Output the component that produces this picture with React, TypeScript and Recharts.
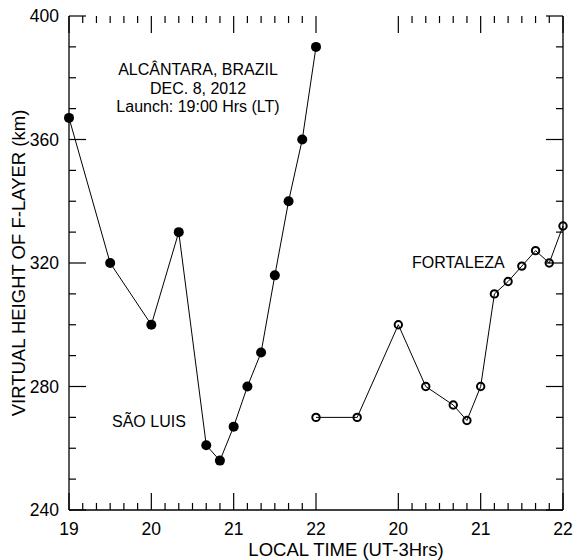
import { LineChart, Line, XAxis, YAxis, ReferenceLine } from 'recharts';

// São Luis ionosonde, local time (h) vs h'F (km)
const saoLuisTime = [19, 19.5, 20, 20.333, 20.667, 20.833, 21, 21.167, 21.333, 21.5, 21.667, 21.833, 22];
const saoLuisHeight = [367, 320, 300, 330, 261, 256, 267, 280, 291, 316, 340, 360, 390];

// Fortaleza ionosonde, same local times, drawn in the second panel
const fortalezaTime = [19, 19.5, 20, 20.333, 20.667, 20.833, 21, 21.167, 21.333, 21.5, 21.667, 21.833, 22];
const fortalezaHeight = [270, 270, 300, 280, 274, 269, 280, 310, 314, 319, 324, 320, 332];

// the second panel starts one hour after the first one ends
const PANEL_SHIFT = 3;
const xSegments = [[19, 22], [23, 25]];
const yTickLabels = [240, 280, 320, 360, 400];

const X_DOMAIN = [19, 25];
const Y_DOMAIN = [240, 400];

const W = 575;
const H = 560;
const LEFT = 69;
const RIGHT = 12;
const TOP = 16;
const BOTTOM = 50;
const FONT = '"Liberation Sans", Arial, Helvetica, sans-serif';

const saoLuis = saoLuisTime.map((t, i) => ({ t, h: saoLuisHeight[i] }));
const fortaleza = fortalezaTime.map((t, i) => ({ t: t + PANEL_SHIFT, h: fortalezaHeight[i] }));

// 10-minute ticks inside each panel, none in the gap between them
const xTicks: number[] = [];
xSegments.forEach(([a, b]) => {
  for (let k = 0; k <= (b - a) * 6; k++) xTicks.push(a + k / 6);
});
const yTicks: number[] = [];
for (let v = Y_DOMAIN[0]; v <= Y_DOMAIN[1]; v += 10) yTicks.push(v);

const isWhole = (v: number) => Math.abs(v - Math.round(v)) < 1e-6;
const hourLabel = (v: number) => {
  const r = Math.round(v);
  return r > 22 ? r - PANEL_SHIFT : r;
};

// inward tick lengths in px, turned into data units for the segments
const MAJOR = 17;
const MINOR = 7;
const kmPerPx = (Y_DOMAIN[1] - Y_DOMAIN[0]) / (H - TOP - BOTTOM);
const hPerPx = (X_DOMAIN[1] - X_DOMAIN[0]) / (W - LEFT - RIGHT);

function BottomLabel({ x, y, payload }: any) {
  const v = payload.value;
  if (!isWhole(v)) return <g />;
  return (
    <text x={x} y={y + 25} textAnchor="middle" fontSize={17.5} fontFamily={FONT} fill="#000">
      {hourLabel(v)}
    </text>
  );
}

function LeftLabel({ x, y, payload }: any) {
  const v = payload.value;
  if (!yTickLabels.includes(v)) return <g />;
  return (
    <text x={x - 10} y={y + 6} textAnchor="end" fontSize={17.5} fontFamily={FONT} fill="#000">
      {v}
    </text>
  );
}

const axisLine = { stroke: '#000', strokeWidth: 1.3 };
const tickStroke = { stroke: '#000', strokeWidth: 1.2 };

export default function App() {
  return (
    <div style={{ position: 'absolute', left: 0, top: 0, width: W, height: H, background: '#fff' }}>
      <LineChart width={W} height={H} margin={{ top: TOP, right: 0, bottom: 0, left: 0 }}>
        <XAxis
          dataKey="t"
          type="number"
          domain={X_DOMAIN}
          ticks={xTicks}
          interval={0}
          tick={BottomLabel}
          tickLine={false}
          tickSize={0}
          tickMargin={0}
          axisLine={axisLine}
          height={BOTTOM}
        />
        <XAxis
          xAxisId="top"
          orientation="top"
          dataKey="t"
          type="number"
          domain={X_DOMAIN}
          tick={false}
          tickLine={false}
          axisLine={axisLine}
          height={0}
        />
        <YAxis
          type="number"
          domain={Y_DOMAIN}
          ticks={yTicks}
          interval={0}
          tick={LeftLabel}
          tickLine={false}
          tickSize={0}
          tickMargin={0}
          axisLine={axisLine}
          width={LEFT}
        />
        <YAxis
          yAxisId="right"
          orientation="right"
          type="number"
          domain={Y_DOMAIN}
          tick={false}
          tickLine={false}
          axisLine={axisLine}
          width={RIGHT}
        />

        {/* inward tick marks on all four sides */}
        {xTicks.map((v) => {
          const d = (isWhole(v) ? MAJOR : MINOR) * kmPerPx;
          return [
            <ReferenceLine
              key={`b${v}`}
              segment={[{ x: v, y: Y_DOMAIN[0] }, { x: v, y: Y_DOMAIN[0] + d }]}
              {...tickStroke}
            />,
            <ReferenceLine
              key={`t${v}`}
              segment={[{ x: v, y: Y_DOMAIN[1] }, { x: v, y: Y_DOMAIN[1] - d }]}
              {...tickStroke}
            />,
          ];
        })}
        {yTicks.map((v) => {
          const d = (yTickLabels.includes(v) ? MAJOR : MINOR) * hPerPx;
          return [
            <ReferenceLine
              key={`l${v}`}
              segment={[{ x: X_DOMAIN[0], y: v }, { x: X_DOMAIN[0] + d, y: v }]}
              {...tickStroke}
            />,
            <ReferenceLine
              key={`r${v}`}
              segment={[{ x: X_DOMAIN[1], y: v }, { x: X_DOMAIN[1] - d, y: v }]}
              {...tickStroke}
            />,
          ];
        })}

        <Line
          data={saoLuis}
          dataKey="h"
          type="linear"
          stroke="#000"
          strokeWidth={1}
          dot={{ r: 5, fill: '#000', stroke: '#000', strokeWidth: 0 }}
          isAnimationActive={false}
        />
        <Line
          data={fortaleza}
          dataKey="h"
          type="linear"
          stroke="#000"
          strokeWidth={1}
          dot={{ r: 3.7, fill: 'none', stroke: '#000', strokeWidth: 2 }}
          isAnimationActive={false}
        />
      </LineChart>
      <svg
        width={W}
        height={H}
        style={{ position: 'absolute', left: 0, top: 0, pointerEvents: 'none' }}
        fontFamily={FONT}
        fill="#000"
      >
        <text x={198} y={75} textAnchor="middle" fontSize={16}>ALCÂNTARA, BRAZIL</text>
        <text x={198} y={93.5} textAnchor="middle" fontSize={16}>DEC. 8, 2012</text>
        <text x={198} y={112} textAnchor="middle" fontSize={16}>Launch: 19:00 Hrs (LT)</text>
        <text x={112} y={427} fontSize={16}>SÃO LUIS</text>
        <text x={412} y={268} fontSize={16}>FORTALEZA</text>
        <text x={346} y={556} textAnchor="middle" fontSize={18.5}>LOCAL TIME (UT-3Hrs)</text>
        <text transform="translate(25,263) rotate(-90)" textAnchor="middle" fontSize={18.5}>
          VIRTUAL HEIGHT OF F-LAYER (km)
        </text>
      </svg>
    </div>
  );
}
